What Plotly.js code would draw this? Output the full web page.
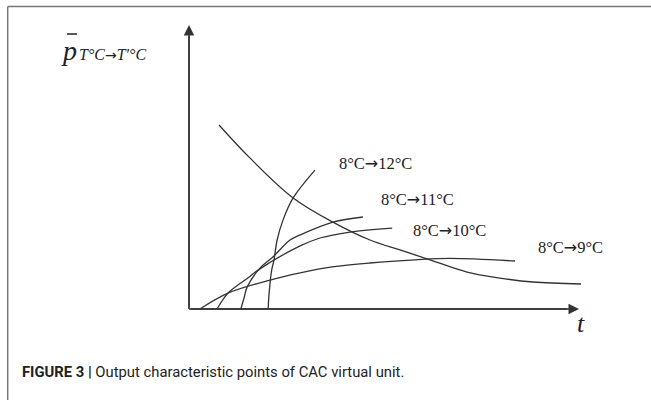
<!DOCTYPE html>
<html><head><meta charset="utf-8">
<script src="https://cdn.plot.ly/plotly-3.0.1.min.js"></script>
<style>html,body{margin:0;padding:0;background:#fff;}#chart{width:651px;height:400px;}</style>
</head><body><div id="chart"></div>
<script>
// Schematic units: t from 0 to 100, p from 0 to 100
const t9  = [2.8, 10.0, 20.8, 28.5, 36.7, 46.4, 58.0, 66.9, 83.6];
const p9  = [0, 5.6, 10.2, 12.7, 14.8, 16.2, 17.3, 17.8, 16.9];
const t10 = [7.2, 10.0, 15.1, 17.7, 28.5, 33.6, 41.3, 52.1];
const p10 = [0, 5.6, 10.9, 13.7, 22.2, 25.0, 27.1, 28.5];
const t11 = [13.3, 14.2, 14.9, 18.2, 21.5, 25.9, 28.5, 36.9, 44.6];
const p11 = [0, 4.3, 7.7, 14.4, 18.3, 24.3, 26.1, 30.6, 32.4];
const t12 = [20.3, 20.5, 21.2, 21.8, 22.6, 24.1, 26.7, 32.3];
const p12 = [0, 4.9, 13.7, 17.3, 24.3, 31.3, 39.1, 48.9];
const tDec = [7.7, 15.6, 26.7, 36.9, 46.4, 54.1, 61.8, 71.3, 79.7, 88.2, 100.5];
const pDec = [64.8, 53.2, 39.1, 30.6, 24.3, 20.8, 17.3, 13.0, 10.9, 9.5, 8.8];
const fromTemp = ["8°C", "8°C", "8°C", "8°C"];
const toTemp = ["12°C", "11°C", "10°C", "9°C"];
const labelT = [47.7, 58.5, 66.9, 97.7];
const labelP = [51.4, 38.4, 27.8, 21.8];
const yLabelSub = ["T°C", "T′°C"];
const xLabel = "t";
const caption = "<b>FIGURE 3 |</b> Output characteristic points of CAC virtual unit.";

const serif = "Liberation Serif, 'DejaVu Serif', serif";
const arrowSpan = '<span style="font-family:\'DejaVu Sans\';font-size:16px">→</span>';
const lineStyle = {color: '#333', width: 1.3, shape: 'spline', smoothing: 1};
function curve(t, p) {
  return {x: t, y: p, type: 'scatter', mode: 'lines', line: lineStyle, hoverinfo: 'skip', showlegend: false};
}
const data = [
  curve(tDec, pDec), curve(t9, p9), curve(t10, p10), curve(t11, p11), curve(t12, p12)
];

const annotations = [];
// axes arrows
annotations.push({x: 0, y: 100, ax: 0, ay: 0, xref: 'x', yref: 'y', axref: 'x', ayref: 'y',
  showarrow: true, arrowhead: 2, arrowsize: 1.4, arrowwidth: 1.5, arrowcolor: '#333', text: ''});
annotations.push({x: 100, y: 0, ax: 0, ay: 0, xref: 'x', yref: 'y', axref: 'x', ayref: 'y',
  showarrow: true, arrowhead: 2, arrowsize: 1.4, arrowwidth: 1.5, arrowcolor: '#333', text: ''});
for (let i = 0; i < toTemp.length; i++) {
  annotations.push({x: labelT[i], y: labelP[i], xref: 'x', yref: 'y', text: fromTemp[i] + arrowSpan + toTemp[i],
    showarrow: false, font: {family: serif, size: 16.5, color: '#222'}, xanchor: 'center', yanchor: 'middle'});
}
// y label
annotations.push({x: 69 / 651, y: (400 - 50) / 400, xref: 'paper', yref: 'paper', text: '<i>p</i>',
  showarrow: false, font: {family: serif, size: 28, color: '#222'}, xanchor: 'center', yanchor: 'middle'});
annotations.push({x: 77 / 651, y: (400 - 54) / 400, xref: 'paper', yref: 'paper',
  text: '<i>' + yLabelSub[0] + '</i>' + '<span style="font-family:\'DejaVu Sans\';font-size:14px">→</span>' + '<i>' + yLabelSub[1] + '</i>',
  showarrow: false, font: {family: serif, size: 16, color: '#222'}, xanchor: 'left', yanchor: 'middle'});
annotations.push({x: 581 / 651, y: (400 - 323) / 400, xref: 'paper', yref: 'paper', text: '<i>' + xLabel + '</i>',
  showarrow: false, font: {family: serif, size: 26, color: '#222'}, xanchor: 'center', yanchor: 'middle'});
annotations.push({x: 20 / 651, y: (400 - 372) / 400, xref: 'paper', yref: 'paper', text: caption,
  showarrow: false, font: {family: "'Liberation Sans Narrow', 'Arial Narrow', 'Roboto', sans-serif", size: 14.8, color: '#222'},
  xanchor: 'left', yanchor: 'middle'});

const shapes = [
  // axes lines
  {type: 'line', xref: 'x', yref: 'y', x0: 0, y0: 0, x1: 0, y1: 96, line: {color: '#333', width: 1.5}},
  {type: 'line', xref: 'x', yref: 'y', x0: 0, y0: 0, x1: 97, y1: 0, line: {color: '#333', width: 1.5}},
  // overbar
  {type: 'line', xref: 'paper', yref: 'paper', x0: 67 / 651, x1: 77 / 651, y0: (400 - 34) / 400, y1: (400 - 34) / 400, line: {color: '#222', width: 1.5}},
  // frame
  {type: 'line', xref: 'paper', yref: 'paper', x0: 7.7 / 651, x1: 7.7 / 651, y0: 0, y1: (400 - 6.5) / 400, line: {color: '#777', width: 1.5}},
  {type: 'line', xref: 'paper', yref: 'paper', x0: 7.7 / 651, x1: 1, y0: (400 - 6.5) / 400, y1: (400 - 6.5) / 400, line: {color: '#777', width: 1.5}}
];

const layout = {
  width: 651, height: 400,
  margin: {l: 0, r: 0, t: 0, b: 0},
  paper_bgcolor: '#fff', plot_bgcolor: '#fff',
  xaxis: {range: [-189 / 3.9, 462 / 3.9], visible: false, fixedrange: true},
  yaxis: {range: [-91 / 2.84, 309 / 2.84], visible: false, fixedrange: true},
  showlegend: false,
  annotations: annotations,
  shapes: shapes
};
Plotly.newPlot('chart', data, layout, {displayModeBar: false, staticPlot: true});
</script>
</body></html>
